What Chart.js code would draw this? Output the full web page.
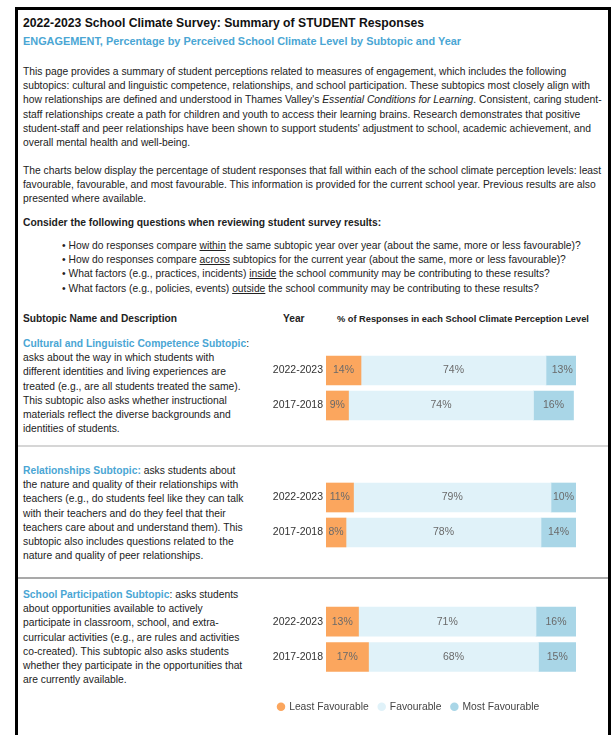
<!DOCTYPE html>
<html lang="en">
<head>
  <meta charset="UTF-8">
  <title>School Climate Survey - Engagement</title>
  <script src="https://cdn.jsdelivr.net/npm/chart.js"></script>
  <style>
    html, body { margin: 0; padding: 0; background: #fff; }
    body { width: 613px; height: 735px; overflow: hidden; position: relative;
           font-family: "Liberation Sans", Arial, sans-serif; color: #222; }
    .page { position: absolute; left: 15px; top: 7px; width: 590px; height: 800px;
            border: 3px solid #000; border-bottom: none; }
    .blk { position: absolute; left: 5px; white-space: nowrap; font-size: 10.3px; line-height: 14.2px; }
    .title { font-size: 12.2px; font-weight: bold; line-height: 18px; color: #111; }
    .subtitle { font-size: 10.9px; font-weight: bold; line-height: 18px; color: #4aa6d4; }
    .bold { font-weight: bold; }
    .bullets { left: 44px; }
    .hdr { font-weight: bold; font-size: 10.2px; }
    .blue { color: #4aa6d4; font-weight: bold; }
    .sep { position: absolute; left: 0; width: 590px; height: 2px; }
    canvas { position: absolute; }
  </style>
</head>
<body>
  <div class="page">
    <div class="blk title" style="top:4px">2022-2023 School Climate Survey: Summary of STUDENT Responses</div>
    <div class="blk subtitle" style="top:22px">ENGAGEMENT, Percentage by Perceived School Climate Level by Subtopic and Year</div>

    <div class="blk" style="top:55px">
      This page provides a summary of student perceptions related to measures of engagement, which includes the following<br>
      subtopics: cultural and linguistic competence, relationships, and school participation. These subtopics most closely align with<br>
      how relationships are defined and understood in Thames Valley's <i>Essential Conditions for Learning</i>. Consistent, caring student-<br>
      staff relationships create a path for children and youth to access their learning brains. Research demonstrates that positive<br>
      student-staff and peer relationships have been shown to support students' adjustment to school, academic achievement, and<br>
      overall mental health and well-being.
    </div>

    <div class="blk" style="top:154px">
      The charts below display the percentage of student responses that fall within each of the school climate perception levels: least<br>
      favourable, favourable, and most favourable. This information is provided for the current school year. Previous results are also<br>
      presented where available.
    </div>

    <div class="blk bold" style="top:206px">Consider the following questions when reviewing student survey results:</div>
    <div class="blk bullets" style="top:229px">
      &bull; How do responses compare <u>within</u> the same subtopic year over year (about the same, more or less favourable)?<br>
      &bull; How do responses compare <u>across</u> subtopics for the current year (about the same, more or less favourable)?<br>
      &bull; What factors (e.g., practices, incidents) <u>inside</u> the school community may be contributing to these results?<br>
      &bull; What factors (e.g., policies, events) <u>outside</u> the school community may be contributing to these results?
    </div>

    <div class="blk hdr" style="top:302px">Subtopic Name and Description</div>
    <div class="blk hdr" style="top:302px; left:265px">Year</div>
    <div class="blk hdr" style="top:302px; left:319px; font-size:9.25px">% of Responses in each School Climate Perception Level</div>

    <div class="blk" style="top:327px">
      <span class="blue">Cultural and Linguistic Competence Subtopic</span>:<br>
      asks about the way in which students with<br>
      different identities and living experiences are<br>
      treated (e.g., are all students treated the same).<br>
      This subtopic also asks whether instructional<br>
      materials reflect the diverse backgrounds and<br>
      identities of students.
    </div>
    <canvas id="clcChart" width="306" height="70" style="left:252px; top:343px"></canvas>

    <div class="sep" style="top:435px; background:#d6d6d6"></div>

    <div class="blk" style="top:454px">
      <span class="blue">Relationships Subtopic:</span> asks students about<br>
      the nature and quality of their relationships with<br>
      teachers (e.g., do students feel like they can talk<br>
      with their teachers and do they feel that their<br>
      teachers care about and understand them). This<br>
      subtopic also includes questions related to the<br>
      nature and quality of peer relationships.
    </div>
    <canvas id="relChart" width="306" height="70" style="left:252px; top:470px"></canvas>

    <div class="sep" style="top:567px; background:#a9a9a9"></div>

    <div class="blk" style="top:578px">
      <span class="blue">School Participation Subtopic</span>: asks students<br>
      about opportunities available to actively<br>
      participate in classroom, school, and extra-<br>
      curricular activities (e.g., are rules and activities<br>
      co-created). This subtopic also asks students<br>
      whether they participate in the opportunities that<br>
      are currently available.
    </div>
    <canvas id="partChart" width="308" height="118" style="left:250px; top:594px"></canvas>
  </div>

  <script>
  // Data
  const years = ['2022-2023', '2017-2018'];
  const levels = ['Least Favourable', 'Favourable', 'Most Favourable'];

  const clcLeast = [14, 9];
  const clcFav   = [74, 74];
  const clcMost  = [13, 16];

  const relLeast = [11, 8];
  const relFav   = [79, 78];
  const relMost  = [10, 14];

  const partLeast = [13, 17];
  const partFav   = [71, 68];
  const partMost  = [16, 15];

  const levelColors = ['#fba65e', '#e0f2f9', '#a9d6e7'];

  Chart.defaults.font.family = '"Liberation Sans", Arial, sans-serif';
  Chart.defaults.font.size = 10.5;

  // draws "NN%" in the middle of each segment
  const segmentLabels = {
    id: 'segmentLabels',
    afterDatasetsDraw(chart) {
      const ctx = chart.ctx;
      ctx.save();
      ctx.font = '10.5px "Liberation Sans", Arial, sans-serif';
      ctx.fillStyle = '#6a6a6a';
      ctx.textAlign = 'center';
      ctx.textBaseline = 'middle';
      chart.data.datasets.forEach((ds, i) => {
        chart.getDatasetMeta(i).data.forEach((bar, j) => {
          ctx.fillText(ds.data[j] + '%', (bar.x + bar.base) / 2, bar.y);
        });
      });
      ctx.restore();
    }
  };

  // yWidth: fixed width of the year column; the last chart also carries the legend
  function makeChart(id, least, fav, most, yWidth, withLegend) {
    return new Chart(document.getElementById(id), {
      type: 'bar',
      data: {
        labels: years,
        datasets: [least, fav, most].map((d, i) => ({
          label: levels[i], data: d, backgroundColor: levelColors[i],
          borderWidth: 0, barThickness: 29
        }))
      },
      options: {
        indexAxis: 'y',
        responsive: false,
        animation: false,
        layout: { padding: 0 },
        scales: {
          x: {
            stacked: true, min: 0, max: 100,
            display: withLegend,
            ticks: { display: false },
            grid: { display: false },
            border: { display: false },
            // empty gap between the bars and the legend
            afterFit: s => { s.height = withLegend ? 17 : 0; }
          },
          y: {
            stacked: true,
            grid: { display: false, drawTicks: false },
            border: { display: false },
            ticks: { color: '#333', padding: 3, font: { size: 10.5 } },
            afterFit: s => { s.width = yWidth; s.paddingTop = 0; s.paddingBottom = 0; }
          }
        },
        plugins: {
          tooltip: { enabled: false },
          legend: {
            display: withLegend,
            position: 'bottom',
            align: 'start',
            labels: { usePointStyle: true, pointStyle: 'circle', boxWidth: 6, boxHeight: 6,
                      padding: 10, color: '#444', font: { size: 10.3 } }
          }
        }
      },
      plugins: [segmentLabels]
    });
  }

  makeChart('clcChart', clcLeast, clcFav, clcMost, 56, false);
  makeChart('relChart', relLeast, relFav, relMost, 56, false);
  makeChart('partChart', partLeast, partFav, partMost, 58, true);
  </script>
</body>
</html>
